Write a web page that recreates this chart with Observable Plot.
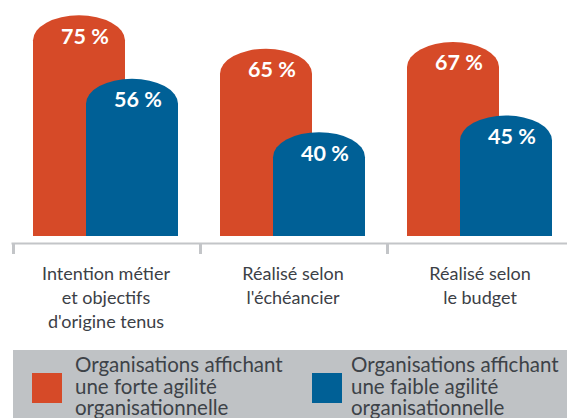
<!DOCTYPE html>
<html>
<head>
<meta charset="utf-8">
<script src="https://cdn.jsdelivr.net/npm/d3@7"></script>
<script src="https://cdn.jsdelivr.net/npm/@observablehq/plot@0.6"></script>
<style>
  html, body { margin: 0; padding: 0; background: #fff; overflow: hidden; }
  body { width: 567px; height: 418px; font-family: Lato, sans-serif; }
  #chart { height: 350px; }
  #legend {
    margin-left: 13px; height: 68px; background: #bfc2c5;
    position: relative; overflow: hidden;
  }
  .item { position: absolute; top: 0; display: flex; }
  .sw { width: 30px; height: 30px; margin-top: 23px; flex: none; }
  .lab { margin-top: 4.3px; font-size: 20.5px; line-height: 21.5px;
         color: #3d4248; white-space: pre; }
</style>
</head>
<body>
<div id="chart"></div>
<div id="legend"></div>
<script>
const categories = ["Intention métier\net objectifs\nd'origine tenus", "Réalisé selon\nl'échéancier", "Réalisé selon\nle budget"];
const forte = [75, 65, 67];
const faible = [56, 40, 45];
const seriesNames = ["Organisations affichant\nune forte agilité\norganisationnelle",
                     "Organisations affichant\nune faible agilité\norganisationnelle"];
const colors = ["#d64a28", "#006096"];

const data = [];
categories.forEach((c, i) => {
  data.push({category: c, series: seriesNames[0], value: forte[i]});
  data.push({category: c, series: seriesNames[1], value: faible[i]});
});
const dForte = data.filter(d => d.series === seriesNames[0]);
const dFaible = data.filter(d => d.series === seriesNames[1]);

const axisColor = "#c3c5c8";

const chart = Plot.plot({
  width: 567,
  height: 350,
  marginLeft: 12,
  marginRight: 0,
  marginTop: 0,
  marginBottom: 114,
  style: {fontFamily: "Lato, sans-serif", background: "transparent"},
  x: {domain: categories, range: [12, 573.75], padding: 0, axis: null},
  y: {domain: [8.9, 79.6], axis: null},
  color: {domain: seriesNames, range: colors},
  marks: [
    Plot.barY(dForte, {x: "category", y: "value", fill: "series", insetLeft: 21, insetRight: 74,
      rx: 46, ry: 25, clip: true}),
    Plot.barY(dFaible, {x: "category", y: "value", fill: "series", insetLeft: 74, insetRight: 21,
      rx: 46, ry: 25, clip: true}),
    Plot.text(dForte, {x: "category", y: "value", text: d => d.value + " %", dx: -21, dy: 21,
      fill: "white", fontWeight: "bold", fontSize: 21.5}),
    Plot.text(dFaible, {x: "category", y: "value", text: d => d.value + " %", dx: 32, dy: 21,
      fill: "white", fontWeight: "bold", fontSize: 21.5}),
    Plot.frame({anchor: "bottom", dy: 7, stroke: axisColor, strokeWidth: 2}),
    Plot.axisX({tickSize: 11, tickFormat: null, label: null, dy: 7, dx: -92.5,
      stroke: axisColor, strokeWidth: 3}),
    Plot.axisX({tickSize: 0, tickPadding: 26, label: null, fontSize: 18, lineHeight: 1.345,
      fill: "#3c4046"})
  ]
});
document.getElementById("chart").appendChild(chart);

const legend = document.getElementById("legend");
const itemLeft = [19, 299];
const textGap = [13, 9];
seriesNames.forEach((name, i) => {
  const item = document.createElement("div");
  item.className = "item";
  item.style.left = itemLeft[i] + "px";
  const sw = document.createElement("div");
  sw.className = "sw";
  sw.style.background = colors[i];
  const lab = document.createElement("div");
  lab.className = "lab";
  lab.style.marginLeft = textGap[i] + "px";
  lab.textContent = name;
  item.appendChild(sw);
  item.appendChild(lab);
  legend.appendChild(item);
});
</script>
</body>
</html>
